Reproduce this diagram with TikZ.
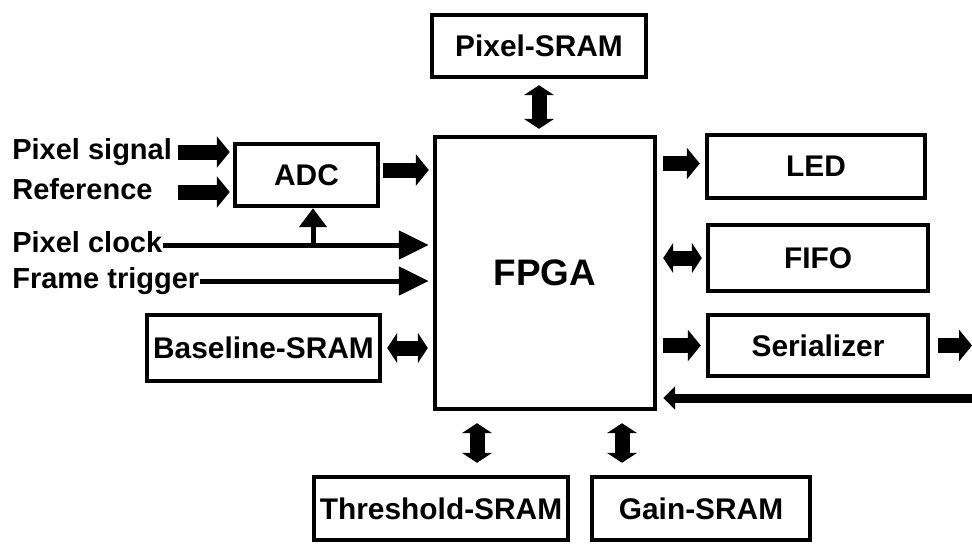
\documentclass[tikz,border=0pt]{standalone}
\usepackage{fontspec}
\setmainfont{Liberation Sans}
\usepackage{tikz}
\usetikzlibrary{arrows.meta, positioning, calc}

\begin{document}
\begin{tikzpicture}[
    x=0.02cm, y=-0.02cm,
    unit/.style={rectangle, draw, line width=0.09cm, align=center, inner sep=0pt, font=\fontsize{17}{20}\selectfont\bfseries},
    inlabel/.style={anchor=west, inner sep=0pt, text height=12pt, text depth=3.5pt, font=\fontsize{16.5}{20}\selectfont\bfseries},
    bus/.style={line width=0.3cm, -{Triangle[width=0.62cm, length=0.26cm]}},
    busboth/.style={line width=0.3cm, {Triangle[width=0.6cm, length=0.2cm]}-{Triangle[width=0.6cm, length=0.2cm]}},
    wire/.style={line width=0.1cm, -{Triangle[width=0.56cm, length=0.6cm]}},
    tap/.style={line width=0.1cm, -{Triangle[width=0.54cm, length=0.38cm]}},
    ret/.style={line width=0.18cm, -{Triangle[width=0.46cm, length=0.24cm]}}
]
\useasboundingbox (0,0) rectangle (972,544);

% Blocks
\node[unit, minimum width=4.28cm, minimum height=1.24cm] (pixsram) at (539,46) {Pixel-SRAM};
\node[unit, minimum width=2.86cm, minimum height=1.24cm] (adc) at (306.5,175) {ADC};
\node[unit, minimum width=4.4cm, minimum height=5.44cm, font=\fontsize{21}{24}\selectfont\bfseries] (fpga) at (545,273) {FPGA};
\node[unit, minimum width=4.36cm, minimum height=1.26cm] (led) at (816,166.5) {LED};
\node[unit, minimum width=4.4cm, minimum height=1.32cm] (fifo) at (818,258) {FIFO};
\node[unit, minimum width=4.4cm, minimum height=1.22cm] (ser) at (818,345.5) {Serializer};
\node[unit, minimum width=4.66cm, minimum height=1.32cm] (basesram) at (263.5,348) {Baseline-SRAM};
\node[unit, minimum width=5.08cm, minimum height=1.26cm] (thrsram) at (441,508.5) {Threshold-SRAM};
\node[unit, minimum width=4.36cm, minimum height=1.26cm] (gainsram) at (701,508.5) {Gain-SRAM};

% Inputs
\node[inlabel] (sig) at (12,152) {Pixel signal};
\node[inlabel] (ref) at (12,192) {Reference};
\node[inlabel] (clk) at (12,245) {Pixel clock};
\node[inlabel] (trg) at (12,281) {Frame trigger};

\coordinate (sigs) at ([xshift=0.12cm]sig.east);
\coordinate (clkbr) at (313,245);
\coordinate (serout) at (972,345.5);
\coordinate (retin) at (972,398);

\draw[bus] (sigs) -- ([xshift=-0.06cm]sig.east -| adc.west);
\draw[bus] (sigs |- ref.east) -- ([xshift=-0.06cm]ref.east -| adc.west);
\draw[wire] (clk.east) -- ([xshift=-0.08cm]clk.east -| fpga.west);
\draw[wire] (trg.east) -- ([xshift=-0.08cm]trg.east -| fpga.west);
\draw[tap] (clkbr) -- (clkbr |- adc.south);
\draw[bus] ([xshift=0.06cm, yshift=0.1cm]adc.east) -- ([xshift=-0.08cm, yshift=0.1cm]adc.east -| fpga.west);
\draw[busboth] ([xshift=0.1cm]basesram.east) -- ([xshift=-0.1cm]basesram.east -| fpga.west);

% Memories
\draw[busboth] ([yshift=-0.12cm]pixsram.south) -- ([yshift=0.12cm]pixsram.south |- fpga.north);
\draw[busboth] ([xshift=0.72cm, yshift=-0.24cm]thrsram.north |- fpga.south) -- ([xshift=0.72cm, yshift=0.24cm]thrsram.north);
\draw[busboth] ([xshift=-1.58cm, yshift=-0.24cm]gainsram.north |- fpga.south) -- ([xshift=-1.58cm, yshift=0.24cm]gainsram.north);

% Outputs
\draw[bus] ([xshift=0.12cm, yshift=0.06cm]fpga.east |- led.west) -- ([xshift=-0.1cm, yshift=0.06cm]led.west);
\draw[busboth] ([xshift=0.12cm]fpga.east |- fifo.west) -- ([xshift=-0.08cm]fifo.west);
\draw[bus] ([xshift=0.12cm]fpga.east |- ser.west) -- ([xshift=-0.1cm]ser.west);
\draw[bus] ([xshift=0.16cm]ser.east) -- (serout);
\draw[ret] (retin) -- ([xshift=0.12cm]fpga.east |- retin);

\end{tikzpicture}
\end{document}
